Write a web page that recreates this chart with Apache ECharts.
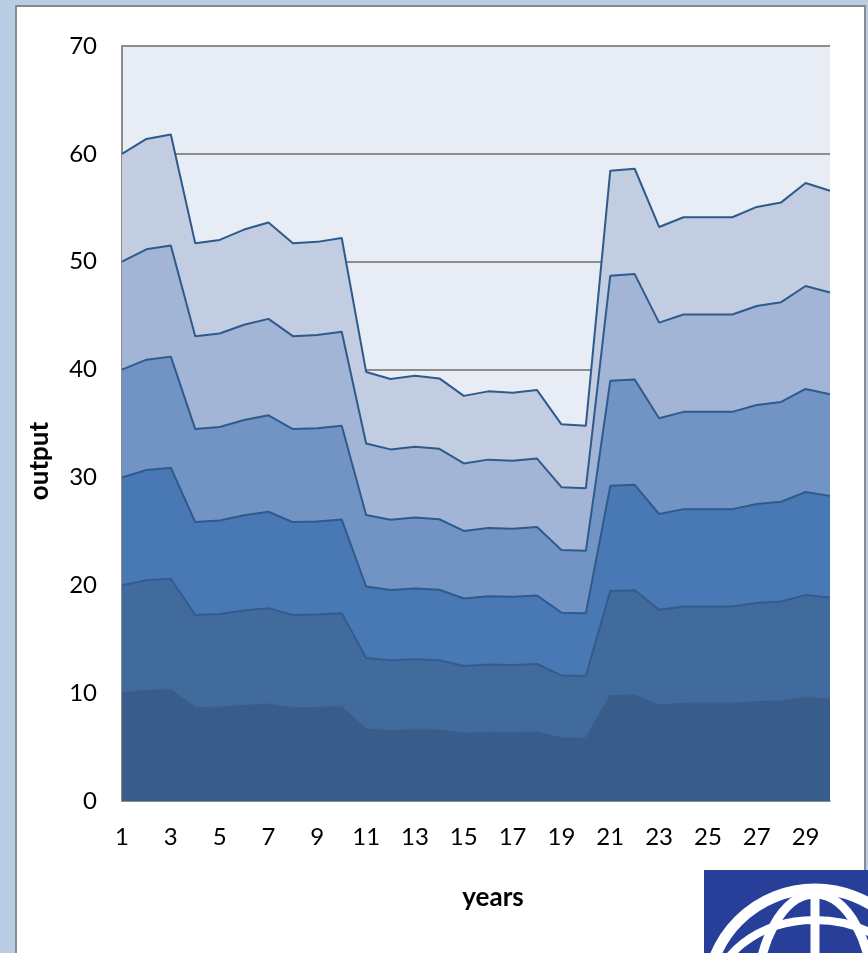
<!DOCTYPE html>
<html>
<head>
<meta charset="utf-8">
<script src="https://cdn.jsdelivr.net/npm/echarts@6/dist/echarts.min.js"></script>
<style>
html,body{margin:0;padding:0;width:868px;height:953px;overflow:hidden;background:#B9CDE5;}
#frame{position:absolute;left:15px;top:5px;width:847px;height:1000px;background:#fff;border:2px solid #8A8A8A;}
#chart{position:absolute;left:0;top:0;width:868px;height:953px;}
</style>
</head>
<body>
<div id="frame"></div>
<div id="chart"></div>
<script>
const years = ['1','2','3','4','5','6','7','8','9','10','11','12','13','14','15','16','17','18','19','20','21','22','23','24','25','26','27','28','29','30'];
const yTicks = [0, 10, 20, 30, 40, 50, 60, 70];
const layer1 = [10.0,10.23,10.3,8.62,8.67,8.83,8.94,8.62,8.64,8.7,6.63,6.52,6.57,6.53,6.26,6.33,6.31,6.35,5.82,5.8,9.74,9.77,8.87,9.02,9.02,9.02,9.18,9.25,9.55,9.43];
const layer2 = [10.0,10.23,10.3,8.62,8.67,8.83,8.94,8.62,8.64,8.7,6.63,6.52,6.57,6.53,6.26,6.33,6.31,6.35,5.82,5.8,9.74,9.77,8.87,9.02,9.02,9.02,9.18,9.25,9.55,9.43];
const layer3 = [10.0,10.23,10.3,8.62,8.67,8.83,8.94,8.62,8.64,8.7,6.63,6.52,6.57,6.53,6.26,6.33,6.31,6.35,5.82,5.8,9.74,9.77,8.87,9.02,9.02,9.02,9.18,9.25,9.55,9.43];
const layer4 = [10.0,10.23,10.3,8.62,8.67,8.83,8.94,8.62,8.64,8.7,6.63,6.52,6.57,6.53,6.26,6.33,6.31,6.35,5.82,5.8,9.74,9.77,8.87,9.02,9.02,9.02,9.18,9.25,9.55,9.43];
const layer5 = [10.0,10.23,10.3,8.62,8.67,8.83,8.94,8.62,8.64,8.7,6.63,6.52,6.57,6.53,6.26,6.33,6.31,6.35,5.82,5.8,9.74,9.77,8.87,9.02,9.02,9.02,9.18,9.25,9.55,9.43];
const layer6 = [10.0,10.23,10.3,8.62,8.67,8.83,8.94,8.62,8.64,8.7,6.63,6.52,6.57,6.53,6.26,6.33,6.31,6.35,5.82,5.8,9.74,9.77,8.87,9.02,9.02,9.02,9.18,9.25,9.55,9.43];
const layers = [layer1, layer2, layer3, layer4, layer5, layer6];
const fills = ['#385D8A','#416B9D','#4879B4','#7194C5','#A2B5D6','#C2CDE2'];
const lines = ['#395E8B','#335C8D','#2F5A8C','#2F5A8C','#2E5A8C','#2E5A8C'];

const chart = echarts.init(document.getElementById('chart'), null, {renderer:'canvas'});
const font = 'Lato, "Open Sans", sans-serif';
chart.setOption({
  backgroundColor: 'transparent',
  animation: false,
  grid: {left: 122, top: 46, right: 38, bottom: 152, show: true, backgroundColor: '#E8ECF4', borderWidth: 0},
  xAxis: {
    type: 'category', data: years, boundaryGap: false,
    axisLine: {show: true, lineStyle: {color: '#8A8A8A', width: 1.5}},
    axisTick: {show: false},
    axisLabel: {interval: 1, color: '#000', fontSize: 24, fontFamily: font, margin: 24},
    splitLine: {show: false}
  },
  yAxis: {
    type: 'value', min: yTicks[0], max: yTicks[yTicks.length-1], interval: 10,
    axisLine: {show: true, lineStyle: {color: '#8A8A8A', width: 2}},
    axisTick: {show: false},
    axisLabel: {color: '#000', fontSize: 24, fontFamily: font, margin: 25},
    splitLine: {show: true, lineStyle: {color: '#8C8C8C', width: 2}}
  },
  series: layers.map((d, i) => ({
    type: 'line', stack: 'total', data: d, symbol: 'none',
    lineStyle: {color: lines[i], width: 2},
    areaStyle: {color: fills[i], opacity: 1},
    z: 9 - i
  })),
  graphic: [
    {type: 'text', z: 10, x: 40, y: 461, rotation: Math.PI/2,
     style: {text: 'output', x: 0, y: 0, fill: '#000', font: 'bold 26px ' + font, textAlign: 'center', textVerticalAlign: 'middle'}},
    {type: 'text', z: 10, x: 493, y: 898,
     style: {text: 'years', x: 0, y: 0, fill: '#000', font: 'bold 26px ' + font, textAlign: 'center', textVerticalAlign: 'middle'}},
    {type: 'rect', z: 20, shape: {x: 704, y: 870, width: 200, height: 120}, style: {fill: '#283F99'}},
    {type: 'circle', z: 21, shape: {cx: 815, cy: 997, r: 108}, style: {fill: 'none', stroke: '#fff', lineWidth: 11}},
    {type: 'ellipse', z: 21, shape: {cx: 815, cy: 1000, rx: 58, ry: 106}, style: {fill: 'none', stroke: '#fff', lineWidth: 9}},
    {type: 'line', z: 21, shape: {x1: 815, y1: 892, x2: 815, y2: 960}, style: {stroke: '#fff', lineWidth: 9}},
    {type: 'ellipse', z: 21, shape: {cx: 815, cy: 1000, rx: 102, ry: 80}, style: {fill: 'none', stroke: '#fff', lineWidth: 8}}
  ]
});
</script>
</body>
</html>
